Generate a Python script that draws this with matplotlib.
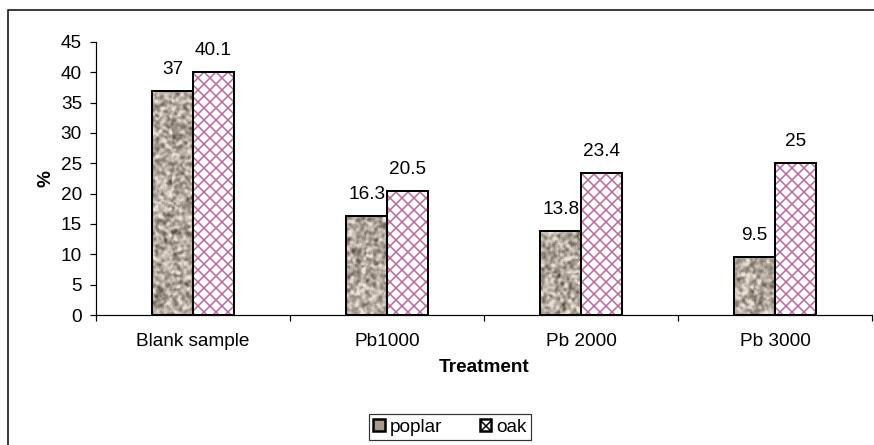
import numpy as np
import matplotlib.pyplot as plt
from matplotlib.patches import Patch, Rectangle

categories = ["Blank sample", "Pb1000", "Pb 2000", "Pb 3000"]
poplar = [37, 16.3, 13.8, 9.5]
oak = [40.1, 20.5, 23.4, 25]
yticks = [0, 5, 10, 15, 20, 25, 30, 35, 40, 45]

POPLAR_COL = "#a89a8a"
OAK_HATCH = "#c0649a"
FONT = "Liberation Sans"
FS = 19


def smooth(a, k=3):
    ker = np.ones(k) / k
    a = np.apply_along_axis(lambda r: np.convolve(r, ker, mode="same"), 0, a)
    a = np.apply_along_axis(lambda r: np.convolve(r, ker, mode="same"), 1, a)
    return a


def granite_texture(rows, cols, seed):
    # decorative stone-like fill for the poplar bars, about one cell per pixel
    rng = np.random.default_rng(seed)
    a = smooth(smooth(rng.random((rows + 8, cols + 8))))[4:-4, 4:-4]
    a = (a - a.mean()) / a.std()
    a = np.clip(0.62 + a * 0.19, 0, 1)
    dark = np.array([0x58, 0x4a, 0x3d]) / 255
    light = np.array([0xea, 0xe2, 0xd8]) / 255
    return dark + a[..., None] * (light - dark)


plt.rcParams["font.family"] = [FONT, "DejaVu Sans"]
plt.rcParams["hatch.linewidth"] = 1.5

fig = plt.figure(figsize=(874 / 72, 445 / 72), dpi=72)
ax = fig.add_axes([96 / 874, 1 - 315 / 445, 776 / 874, 273 / 445])

# outer chart frame (cut off at right and bottom)
fig.add_artist(Rectangle((8 / 874, -0.2), 1.2, 1.2 - 10 / 445,
                         transform=fig.transFigure, fill=False,
                         edgecolor="black", linewidth=1.5))

x = np.arange(len(categories))
w = 0.21
px_x = 776 / 4
px_y = 273 / 45

b1 = ax.bar(x - w / 2, poplar, w, color=POPLAR_COL, edgecolor="black", linewidth=2, zorder=2)
for i, rect in enumerate(b1):
    x0, y0 = rect.get_x(), rect.get_y()
    tex = granite_texture(int(rect.get_height() * px_y) + 2, int(w * px_x) + 2, seed=10 + i)
    im = ax.imshow(tex, extent=[x0, x0 + rect.get_width(), y0, y0 + rect.get_height()],
                   aspect="auto", zorder=2.5, interpolation="nearest")
    im.set_clip_path(rect)
ax.bar(x - w / 2, poplar, w, fill=False, edgecolor="black", linewidth=2, zorder=3)

ax.bar(x + w / 2, oak, w, color="white", edgecolor=OAK_HATCH, hatch="xx", linewidth=0, zorder=2)
ax.bar(x + w / 2, oak, w, fill=False, edgecolor="black", linewidth=2, zorder=3)

for xi, v in zip(x, poplar):
    ax.annotate(f"{v:g}", (xi - w / 2, v), xytext=(0, 17), textcoords="offset points",
                ha="center", va="baseline", fontsize=FS)
for xi, v in zip(x, oak):
    ax.annotate(f"{v:g}", (xi + w / 2, v), xytext=(0, 17), textcoords="offset points",
                ha="center", va="baseline", fontsize=FS)

ax.set_xlim(-0.5, 3.5)
ax.set_ylim(0, 45)
ax.set_yticks(yticks)
ax.tick_params(axis="y", length=6, width=1.2, pad=8, labelsize=FS)
ax.set_xticks(np.arange(-0.5, 3.6, 1))
ax.set_xticklabels([])
ax.set_xticks(x, minor=True)
ax.set_xticklabels(categories, minor=True, fontsize=FS)
ax.tick_params(axis="x", which="major", length=6, width=1.2)
ax.tick_params(axis="x", which="minor", length=0, pad=18)

for s in ["top", "right"]:
    ax.spines[s].set_visible(False)
for s in ["left", "bottom"]:
    ax.spines[s].set_linewidth(1.2)

ax.set_ylabel("%", fontsize=FS, fontweight="bold", labelpad=6)
ax.set_xlabel("Treatment", fontsize=FS, fontweight="bold", labelpad=9)

handles = [Patch(facecolor=POPLAR_COL, edgecolor="black", linewidth=2.5, label="poplar"),
           Patch(facecolor="white", edgecolor=OAK_HATCH, hatch="xx", linewidth=2.5, label="oak")]
leg = fig.legend(handles=handles, loc="center", bbox_to_anchor=(450 / 874, 1 - 427 / 445),
                 ncol=2, fontsize=FS, frameon=True, fancybox=False, edgecolor="black",
                 handlelength=0.6, handleheight=0.6, handletextpad=0.25, columnspacing=2.0,
                 borderpad=0.25, borderaxespad=0)
leg.get_frame().set_linewidth(1.2)
for h in leg.legend_handles[1:]:
    h.set_edgecolor("black")

fig.savefig("out.png", dpi=72)
